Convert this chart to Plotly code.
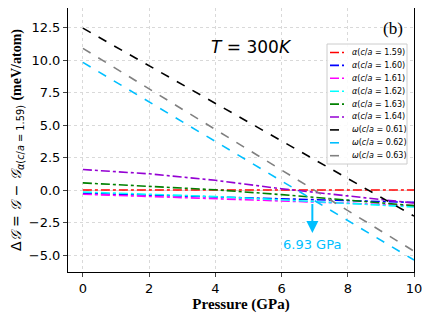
import plotly.graph_objects as go

pressure = [0, 2, 4, 6, 8, 10]
x_range = [-0.45, 10.0]
y_range = [-6.3, 14.0]

alpha_labels = ["1.59", "1.60", "1.61", "1.62", "1.63", "1.64"]
alpha_colors = ["#FF0000", "#0000FF", "#FF00FF", "#00FFFF", "#008000", "#9400D3"]
alpha_values = [
    [0.0, 0.0, 0.0, 0.0, 0.0, 0.0],
    [-0.25, -0.38, -0.52, -0.66, -0.8, -0.95],
    [-0.32, -0.48, -0.65, -0.83, -1.01, -1.2],
    [-0.15, -0.3, -0.5, -0.75, -1.02, -1.3],
    [0.55, 0.3, 0.02, -0.35, -0.78, -1.2],
    [1.58, 1.25, 0.75, 0.1, -0.45, -1.0],
]

omega_labels = ["0.61", "0.62", "0.63"]
omega_colors = ["#000000", "#00BFFF", "#808080"]
omega_values = [
    [12.45, 9.56, 6.67, 3.78, 0.89, -2.0],
    [9.82, 6.78, 3.74, 0.7, -2.34, -5.38],
    [10.9, 7.78, 4.66, 1.54, -1.58, -4.7],
]

y_ticks = [-5.0, -2.5, 0.0, 2.5, 5.0, 7.5, 10.0, 12.5]
x_ticks = [0, 2, 4, 6, 8, 10]
transition_p = 6.93

# layout geometry (page pixels of the plot frame)
W, H = 430, 319
PL, PR, PT, PB = 68, 414, 8, 272
OFF = 8  # page offset of the figure


def px(x):
    return (x - PL) / (PR - PL)


def py(y):
    return (PB - y) / (PB - PT)


fig = go.Figure()
entries = []
for lab, col, vals in zip(alpha_labels, alpha_colors, alpha_values):
    name = f"<i>α</i>(<i>c</i>/<i>a</i> = {lab})"
    fig.add_trace(go.Scatter(x=pressure, y=vals, mode="lines", name=name, showlegend=False,
                             line=dict(color=col, width=1.6, dash="dashdot")))
    entries.append((name, col, "dashdot"))
for lab, col, vals in zip(omega_labels, omega_colors, omega_values):
    name = f"<i>ω</i>(<i>c</i>/<i>a</i> = {lab})"
    fig.add_trace(go.Scatter(x=pressure, y=vals, mode="lines", name=name, showlegend=False,
                             line=dict(color=col, width=1.6, dash="dash")))
    entries.append((name, col, "dash"))

# custom compact legend
LX0, LX1, LY0, LY1 = 327, 407, 44, 164
fig.add_shape(type="rect", xref="paper", yref="paper",
              x0=px(LX0), x1=px(LX1), y0=py(LY1), y1=py(LY0),
              line=dict(color="#cccccc", width=1), fillcolor="rgba(255,255,255,0.85)", layer="above")
row0, step = 52.5, 12.9
for i, (name, col, dash) in enumerate(entries):
    yy = row0 + i * step
    fig.add_shape(type="line", xref="paper", yref="paper",
                  x0=px(330), x1=px(344), y0=py(yy), y1=py(yy),
                  line=dict(color=col, width=1.6, dash=dash), layer="above")
    fig.add_annotation(x=px(350), y=py(yy), xref="paper", yref="paper", showarrow=False,
                       text=name, xanchor="left", yanchor="middle",
                       font=dict(size=8, family="DejaVu Sans", color="black"))

fig.add_annotation(x=transition_p, y=-3.3, ax=transition_p, ay=-0.95,
                   xref="x", yref="y", axref="x", ayref="y",
                   showarrow=True, arrowhead=2, arrowsize=1.2, arrowwidth=2,
                   arrowcolor="#00BFFF", text="")
fig.add_annotation(x=transition_p, y=-4.2, xref="x", yref="y", showarrow=False,
                   text="6.93 GPa", font=dict(color="#00BFFF", size=13, family="DejaVu Sans"))
fig.add_annotation(x=px(251), y=py(47), xref="paper", yref="paper", showarrow=False,
                   text="<i>T</i> = 300<i>K</i>", font=dict(size=17, color="black", family="DejaVu Sans"),
                   xanchor="center", yanchor="middle")
fig.add_annotation(x=px(405), y=py(28), xref="paper", yref="paper", showarrow=False,
                   text="(b)", font=dict(size=17, color="black", family="Liberation Serif"),
                   xanchor="right", yanchor="middle")

fig.update_layout(
    width=W, height=H,
    margin=dict(l=PL - OFF, r=W - PR + OFF, t=PT - OFF, b=H - PB + OFF, autoexpand=False),
    paper_bgcolor="white", plot_bgcolor="white",
    font=dict(family="DejaVu Sans", size=13, color="black"),
    showlegend=False,
)
fig.update_xaxes(range=x_range, tickvals=x_ticks, ticks="outside", ticklen=4, automargin=False,
                 showline=True, linecolor="black", linewidth=1, mirror=True,
                 showgrid=True, gridcolor="#d9d9d9", griddash="dot", gridwidth=1,
                 zeroline=False,
                 title=dict(text="<b>Pressure (GPa)</b>", font=dict(family="Liberation Serif", size=15), standoff=3))
fig.update_yaxes(range=y_range, tickvals=y_ticks, ticktext=[f"{v:.1f}".replace("-", "−") for v in y_ticks],
                 ticks="outside", ticklen=4, automargin=False,
                 showline=True, linecolor="black", linewidth=1, mirror=True,
                 showgrid=True, gridcolor="#d9d9d9", griddash="dot", gridwidth=1,
                 zeroline=False,
                 title=dict(text="Δ<i>𝒢</i> = <i>𝒢</i> − <i>𝒢</i><sub><i>α</i>(<i>c</i>/<i>a</i> = 1.59)</sub> <b><span style='font-family:Liberation Serif'>(meV/atom)</span></b>",
                            font=dict(size=14), standoff=4))

fig.write_html("out.html")
